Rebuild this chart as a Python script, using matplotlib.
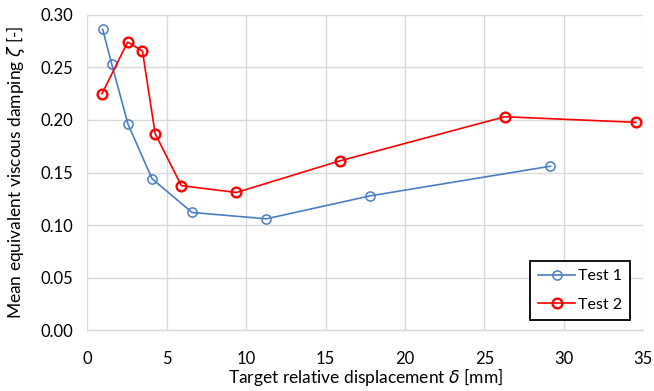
import matplotlib
matplotlib.use('Agg')
import matplotlib.pyplot as plt

# данные
disp_t1 = [0.97, 1.54, 2.56, 4.08, 6.6, 11.28, 17.77, 29.16]
zeta_t1 = [0.286, 0.253, 0.196, 0.144, 0.112, 0.106, 0.1277, 0.156]

disp_t2 = [0.93, 2.54, 3.47, 4.27, 5.92, 9.39, 15.88, 26.28, 34.53]
zeta_t2 = [0.225, 0.274, 0.2655, 0.187, 0.1375, 0.131, 0.161, 0.203, 0.1977]

plt.rcParams['font.family'] = ['Lato', 'DejaVu Sans']
plt.rcParams['mathtext.fontset'] = 'dejavusans'

fig = plt.figure(figsize=(6.54, 3.91), dpi=100)
ax = fig.add_axes([0.1335, 0.1552, 0.85, 0.8072])

ax.plot(disp_t1, zeta_t1, color='#4A7EC4', linewidth=1.2, marker='o',
        markersize=6.6, markerfacecolor='none', markeredgecolor='#4A7EC4',
        markeredgewidth=1.1, label='Test 1', zorder=3)
ax.plot(disp_t2, zeta_t2, color='#FF0000', linewidth=1.2, marker='o',
        markersize=7, markerfacecolor='none', markeredgecolor='#FF0000',
        markeredgewidth=1.7, label='Test 2', zorder=3)

ax.set_xlim(0, 35)
ax.set_ylim(0, 0.30)
ax.set_xticks(range(0, 36, 5))
ax.set_yticks([i * 0.05 for i in range(7)])
ax.set_yticklabels(['%.2f' % (i * 0.05) for i in range(7)])
ax.tick_params(length=0, labelsize=12, colors='#000000')
ax.tick_params(axis='y', pad=10)
ax.tick_params(axis='x', pad=15)

ax.grid(True, color='#D9D9D9', linewidth=1.0)
ax.set_axisbelow(True)
for s in ['top', 'right', 'left']:
    ax.spines[s].set_visible(False)
ax.spines['bottom'].set_color('#D9D9D9')
ax.spines['bottom'].set_linewidth(1.0)

ax.set_xlabel(r'Target relative displacement $\delta$ [mm]', fontsize=12.5, labelpad=-1)
ax.set_ylabel(r'Mean equivalent viscous damping $\zeta$ [-]', fontsize=12.5, labelpad=10)

leg = ax.legend(loc='lower right', bbox_to_anchor=(0.9766, 0.0326),
                borderaxespad=0, fontsize=11.5, fancybox=False,
                edgecolor='black', framealpha=1, handlelength=2.3,
                labelspacing=0.9, borderpad=0.5, handletextpad=0.2)
leg.get_frame().set_linewidth(1.3)

fig.savefig('out.png', dpi=100)
